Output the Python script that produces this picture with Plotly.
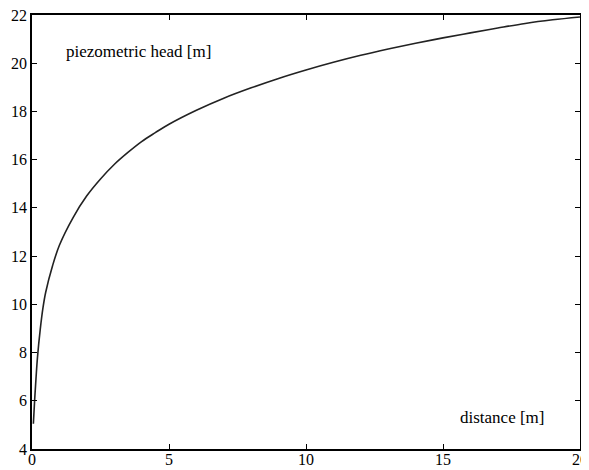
import plotly.graph_objects as go

distance = [0.05, 0.1, 0.15, 0.2, 0.3, 0.4, 0.5, 0.75, 1.0, 1.5, 2.0, 2.5, 3.0, 3.5, 4.0,
            4.5, 5.0, 6.0, 7.0, 8.0, 9.0, 10.0, 11.0, 12.0, 13.0, 14.0, 15.0, 16.0, 17.0,
            18.0, 19.0, 20.0]
head = [5.05, 6.1, 7.0, 7.8, 8.95, 9.85, 10.5, 11.6, 12.45, 13.6, 14.5, 15.2, 15.8, 16.3,
        16.75, 17.12, 17.47, 18.05, 18.55, 18.98, 19.37, 19.72, 20.04, 20.33, 20.59, 20.83,
        21.05, 21.26, 21.46, 21.65, 21.8, 21.92]
x_ticks = [0, 5, 10, 15, 20]
y_ticks = [4, 6, 8, 10, 12, 14, 16, 18, 20, 22]

fig = go.Figure()
fig.add_trace(go.Scatter(x=distance, y=head, mode="lines",
                         line=dict(color="#222222", width=1.6, shape="spline", smoothing=1.0),
                         showlegend=False, hoverinfo="skip"))

font = dict(family="Liberation Serif", size=17, color="black")
tick_font = dict(family="Liberation Serif", size=16, color="black")
axis_common = dict(showgrid=False, zeroline=False, showline=True, linecolor="black",
                   linewidth=1.5, mirror="ticks", ticks="inside", ticklen=5,
                   tickcolor="black", tickwidth=1, automargin=False,
                   ticklabeloverflow="allow", tickfont=tick_font)
fig.update_xaxes(range=[0, 20], tickvals=x_ticks, ticktext=[str(v) for v in x_ticks],
                 ticklabelstandoff=-5, **axis_common)
fig.update_yaxes(range=[4, 22], tickvals=y_ticks, ticktext=[str(v) for v in y_ticks],
                 **axis_common)

fig.add_annotation(x=1.18, y=20.47, text="piezometric head [m]", showarrow=False,
                   xanchor="left", yanchor="middle", font=font)
fig.add_annotation(x=15.53, y=5.3, text="distance [m]", showarrow=False,
                   xanchor="left", yanchor="middle", font=font)

fig.update_layout(width=581, height=462, margin=dict(l=24, r=9, t=7, b=21),
                  paper_bgcolor="white", plot_bgcolor="white", font=font)
fig.write_html("out.html")
